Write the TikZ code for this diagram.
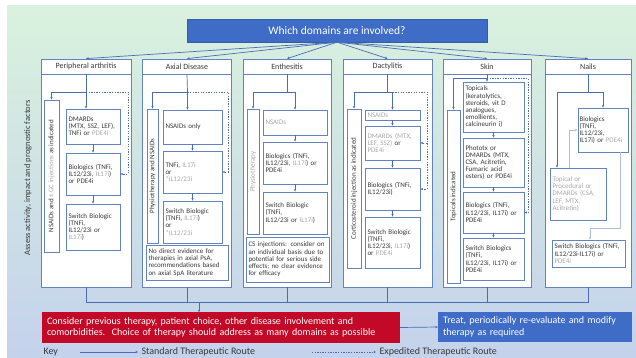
\documentclass[tikz,border=0pt]{standalone}
\usepackage{fontspec}
\setmainfont{Carlito}
\usetikzlibrary{arrows.meta}
\definecolor{boxblue}{HTML}{6383C0}
\definecolor{lineblue}{HTML}{4A6DB5}
\definecolor{softgrey}{HTML}{A8A8A8}
\definecolor{txtgrey}{HTML}{383838}
\definecolor{bannerblue}{HTML}{3F6CC6}
\definecolor{alertred}{HTML}{C20A28}
\definecolor{bgtop}{HTML}{D9F2DE}
\definecolor{bgmid}{HTML}{B9CDEB}
\definecolor{bgbot}{HTML}{C4D2EC}
\newcommand{\greytx}[1]{{\color{softgrey}#1}}
\newcommand{\boxfont}{\fontsize{7}{7.2}\selectfont}

\begin{document}
\begin{tikzpicture}[x=1pt,y=-1pt]
    \tikzset{
      colbox/.style = {draw=boxblue, fill=white, line width=.8pt},
      headbox/.style = {draw=boxblue, fill=white, line width=.8pt, text=txtgrey,
                        font=\fontsize{8}{9}\selectfont, inner sep=1pt},
      tbox/.style = {draw=boxblue, fill=white, line width=.9pt, text=txtgrey,
                     font=\boxfont, align=left, inner sep=2.5pt},
      vbox/.style = {draw=boxblue, fill=white, line width=.9pt, text=txtgrey,
                     font=\fontsize{7}{8}\selectfont, rotate=90, inner sep=.5pt},
      LinkStyle/.style = {draw=lineblue, line width=.7pt},
      EdgeStyle/.style = {LinkStyle, -{Stealth[length=2.6pt,width=2.4pt]}},
      FastStyle/.style = {EdgeStyle, dash pattern=on 1.3pt off 1.3pt},
      SoftStyle/.style = {EdgeStyle, draw=lineblue!45},
      bigfont/.style = {font=\fontsize{10}{11.5}\selectfont} }
    \useasboundingbox (0,0) rectangle (636,358);
    \fill[top color=bgtop, middle color=bgmid, bottom color=bgbot] (7,6) rectangle (636,358);

    \node[fill=bannerblue, draw=bannerblue!85!black, text=white, minimum width=300pt,
          minimum height=22.5pt, font=\fontsize{11.5}{13}\selectfont] (top) at (337,30.75)
          {Which domains are involved?};
    \node[font=\fontsize{8.5}{10}\selectfont, text=txtgrey, rotate=90] (assess) at (28,178)
          {Assess activity, impact and prognostic factors};

    % domain columns
    \node[colbox, minimum width=90pt, minimum height=228pt] (c1) at (86,173) {};
    \node[colbox, minimum width=89pt, minimum height=228pt] (c2) at (187,173) {};
    \node[colbox, minimum width=88pt, minimum height=228pt] (c3) at (287,173) {};
    \node[colbox, minimum width=89pt, minimum height=228pt] (c4) at (387.5,173) {};
    \node[colbox, minimum width=88pt, minimum height=228pt] (c5) at (487,173) {};
    \node[colbox, minimum width=86pt, minimum height=228pt] (c6) at (588,173) {};
    \node[headbox, minimum width=90pt, minimum height=15pt] (h1) at (86,66.5) {Peripheral arthritis};
    \node[headbox, minimum width=89pt, minimum height=15pt] (h2) at (187,66.5) {Axial Disease};
    \node[headbox, minimum width=88pt, minimum height=15pt] (h3) at (287,66.5) {Enthesitis};
    \node[headbox, minimum width=89pt, minimum height=15pt] (h4) at (387.5,66.5) {Dactylitis};
    \node[headbox, minimum width=88pt, minimum height=15pt] (h5) at (487,66.5) {Skin};
    \node[headbox, minimum width=86pt, minimum height=15pt] (h6) at (588,66.5) {Nails};
    \draw[EdgeStyle] (top.south) -- (h1.north);
    \draw[EdgeStyle] (top.south) -- (h2.north);
    \draw[EdgeStyle] (top.south) -- (h3.north);
    \draw[EdgeStyle] (top.south) -- (h4.north);
    \draw[EdgeStyle] (top.south) -- (h5.north);
    \draw[EdgeStyle] (top.south) -- (h6.north);

    % peripheral arthritis
    \node[vbox, minimum width=152pt, minimum height=15pt] (pav) at (51.5,176)
         {NSAIDs and \greytx{± GC injections} as indicated};
    \node[tbox, text width=49pt, minimum height=35pt] (pa1) at (93,126.5)
         {DMARDs\\ (MTX, SSZ, LEF),\\ TNFi or \greytx{PDE4i}};
    \node[tbox, text width=49pt, minimum height=42pt] (pa2) at (93,174)
         {Biologics (TNFi,\\ IL12/23i, \greytx{IL17i})\\ or PDE4i};
    \node[tbox, text width=49pt, minimum height=46pt] (pa3) at (93,227)
         {Switch Biologic\\ (TNFi,\\ IL12/23i or\\ \greytx{IL17i})};
    \coordinate (pj) at (86,92);
    \draw[LinkStyle] (h1.south) -- (pj);
    \draw[EdgeStyle] (pj) -| (pav.east);
    \draw[EdgeStyle] (pj) -- (pj |- pa1.north);
    \draw[FastStyle] (pj) -- (128,92) |- (pa2.east);
    \draw[EdgeStyle] (pa1) -- (pa2);
    \draw[EdgeStyle] (pa2) -- (pa3);

    % axial disease
    \node[vbox, minimum width=134pt, minimum height=11pt] (axv) at (152.5,176)
         {Physiotherapy and NSAIDs};
    \node[tbox, text width=54pt, minimum height=34pt] (ax1) at (192.5,127) {NSAIDs only};
    \node[tbox, text width=54pt, minimum height=42pt] (ax2) at (192.5,172)
         {TNFi, \greytx{IL17i}\\ or\\ \greytx{*IL12/23i}};
    \node[tbox, text width=54pt, minimum height=42pt] (ax3) at (192.5,222)
         {Switch Biologic\\ (TNFi, \greytx{IL17i})\\ or\\ \greytx{*IL12/23i}};
    \node[tbox, text width=77pt, minimum height=35pt] (ax4) at (187,262.5)
         {No direct evidence for\\ therapies in axial PsA,\\ recommendations based\\ on axial SpA literature};
    \coordinate (aj) at (187.5,92);
    \draw[LinkStyle] (h2.south) -- (aj);
    \draw[EdgeStyle] (aj) -| (axv.east);
    \draw[EdgeStyle] (aj) -- (aj |- ax1.north);
    \draw[FastStyle] (aj) -- (228,92) |- (ax2.east);
    \draw[EdgeStyle] (ax1) -- (ax2);
    \draw[EdgeStyle] (ax2) -- (ax3);

    % enthesitis
    \node[vbox, minimum width=125pt, minimum height=12pt] (env) at (253,171.5)
         {\greytx{Physiotherapy}};
    \node[tbox, text width=59pt, minimum height=25pt] (en1) at (295,122.5) {\greytx{NSAIDs}};
    \node[tbox, text width=59pt, minimum height=42pt] (en2) at (295,163)
         {Biologics (TNFi,\\ IL12/23i, \greytx{IL17i}) or\\ PDE4i};
    \node[tbox, text width=59pt, minimum height=42pt] (en3) at (295,213)
         {Switch Biologic\\ (TNFi,\\ IL12/23i or \greytx{IL17i})};
    \node[tbox, text width=78pt, minimum height=45pt] (en4) at (287.5,259.5)
         {CS injections: consider on\\ an individual basis due to\\ potential for serious side\\ effects; no clear evidence\\ for efficacy};
    \coordinate (ej) at (287,92);
    \draw[LinkStyle] (h3.south) -- (ej);
    \draw[EdgeStyle] (ej) -| (env.east);
    \draw[EdgeStyle] (ej) -| (en1.north);
    \draw[EdgeStyle] (en1) -- (en2);
    \draw[EdgeStyle] (en2) -- (en3);

    % dactylitis
    \node[vbox, minimum width=159pt, minimum height=14pt] (dav) at (354,188.5)
         {Corticosteroid injection as indicated};
    \node[tbox, text width=50pt, minimum height=10pt, inner ysep=.5pt] (da1) at (392.5,115)
         {\greytx{NSAIDs}};
    \node[tbox, text width=50pt, minimum height=34pt] (da2) at (392.5,143)
         {\greytx{DMARDs (MTX,}\\ \greytx{LEF, SSZ)} or\\ \greytx{PDE4i}};
    \node[tbox, text width=50pt, minimum height=42pt] (da3) at (392.5,189)
         {Biologics (TNFi,\\ IL12/23i)};
    \node[tbox, text width=50pt, minimum height=51pt] (da4) at (392.5,242.5)
         {Switch Biologic\\ (TNFi,\\ IL12/23i, \greytx{IL17i})\\ or \greytx{PDE4i}};
    \coordinate (dj) at (387.5,92);
    \coordinate (dk) at (427,92);
    \draw[LinkStyle] (h4.south) -- (dj);
    \draw[EdgeStyle] (dj) -| (dav.east);
    \draw[EdgeStyle] (dj) -| (da1.north);
    \draw[FastStyle] (dj) -- (dk) |- (da3.east);
    \draw[FastStyle] (dk |- da2.east) -- (da2.east);
    \draw[EdgeStyle] (da1) -- (da2);
    \draw[EdgeStyle] (da2) -- (da3);
    \draw[EdgeStyle] (da3) -- (da4);

    % skin
    \node[vbox, minimum width=173pt, minimum height=13pt] (skv) at (453.5,196.5)
         {Topicals indicated};
    \node[tbox, text width=56pt, minimum height=50pt] (sk1) at (493.5,107)
         {Topicals\\ (keratolytics,\\ steroids, vit D\\ analogues,\\ emollients,\\ calcineurin i)};
    \node[tbox, text width=56pt, minimum height=49pt] (sk2) at (493.5,162.5)
         {Phototx or\\ DMARDs (MTX,\\ CSA, Acitretin,\\ Fumaric acid\\ esters) or PDE4i};
    \node[tbox, text width=56pt, minimum height=41pt] (sk3) at (493.5,212.5)
         {Biologics (TNFi,\\ IL12/23i, IL17i) or\\ PDE4i};
    \node[tbox, text width=56pt, minimum height=42pt] (sk4) at (493.5,259)
         {Switch Biologics\\ (TNFi,\\ IL12/23i, IL17i) or\\ PDE4i};
    \coordinate (sj) at (487,78.5);
    \draw[LinkStyle] (h5.south) -- (sj);
    \draw[EdgeStyle] (sj) -| (skv.east);
    \draw[EdgeStyle] (sj) -- (sj |- sk1.north);
    \draw[FastStyle] (sj) -- (528,78.5) |- (sk3.east);
    \draw[EdgeStyle] (sk1) -- (sk2);
    \draw[EdgeStyle] (sk2) -- (sk3);
    \draw[EdgeStyle] (sk3) -- (sk4);

    % nails
    \node[tbox, text width=47pt, inner xsep=1.5pt, minimum height=44pt] (na1) at (603,130)
         {Biologics\\ (TNFi,\\ IL12/23i,\\ IL17i) or \greytx{PDE4i}};
    \node[tbox, text width=51pt, minimum height=52pt] (na2) at (578,194)
         {\greytx{Topical or}\\ \greytx{Procedural or}\\ \greytx{DMARDs (CSA,}\\ \greytx{LEF, MTX,}\\ \greytx{Acitretin)}};
    \node[tbox, text width=68pt, minimum height=27pt] (na3) at (588.5,253.5)
         {Switch Biologics (TNFi,\\ IL12/23i-IL17i) or \greytx{PDE4i}};
    \coordinate (nj) at (588,92);
    \coordinate (nk) at (590,228);
    \draw[LinkStyle] (h6.south) -- (nj);
    \draw[EdgeStyle] (nj) -| (na1.north);
    \draw[EdgeStyle] (nj) -| ([xshift=-21pt]na2.north);
    \draw[SoftStyle] ([xshift=-9pt]na2.north) |- (na1.west);
    \draw[SoftStyle] ([xshift=17pt]na1.south) |- (nk) -- (nk |- na3.north);

    % bottom boxes
    \node[fill=alertred, text=white, text width=348pt, minimum height=29pt, inner sep=5pt,
          align=left, bigfont] (cons) at (221,327.5)
         {Consider previous therapy, patient choice, other disease involvement and\\
          comorbidities.\ \ Choice of therapy should address as many domains as possible};
    \node[fill=bannerblue, text=white, text width=184pt, minimum height=30pt, inner sep=5pt,
          align=left, bigfont] (treat) at (535,327)
         {Treat, periodically re-evaluate and modify\\ therapy as required};
    \coordinate (b1) at (86,302);
    \coordinate (bm) at (199,302);
    \draw[LinkStyle] (c1.south) |- (c6.south |- b1) -- (c6.south);
    \draw[LinkStyle] (c2.south) -- (c2.south |- b1);
    \draw[LinkStyle] (c3.south) -- (c3.south |- b1);
    \draw[LinkStyle] (c4.south) -- (c4.south |- b1);
    \draw[LinkStyle] (c5.south) -- (c5.south |- b1);
    \draw[EdgeStyle] (bm) -- (bm |- cons.north);
    \draw[EdgeStyle] (cons.east) -- (treat.west);

    % key
    \node[bigfont, text=txtgrey, anchor=west] (key) at (40,352) {Key};
    \coordinate (k1) at (80,352);
    \node[bigfont, text=txtgrey, anchor=west] (std) at (138,352) {Standard Therapeutic Route};
    \coordinate (k2) at (312,352);
    \node[bigfont, text=txtgrey, anchor=west] (exp) at (376,352) {Expedited Therapeutic Route};
    \draw[EdgeStyle] (k1) -- (std.west);
    \draw[FastStyle] (k2) -- (exp.west);
\end{tikzpicture}
\end{document}
